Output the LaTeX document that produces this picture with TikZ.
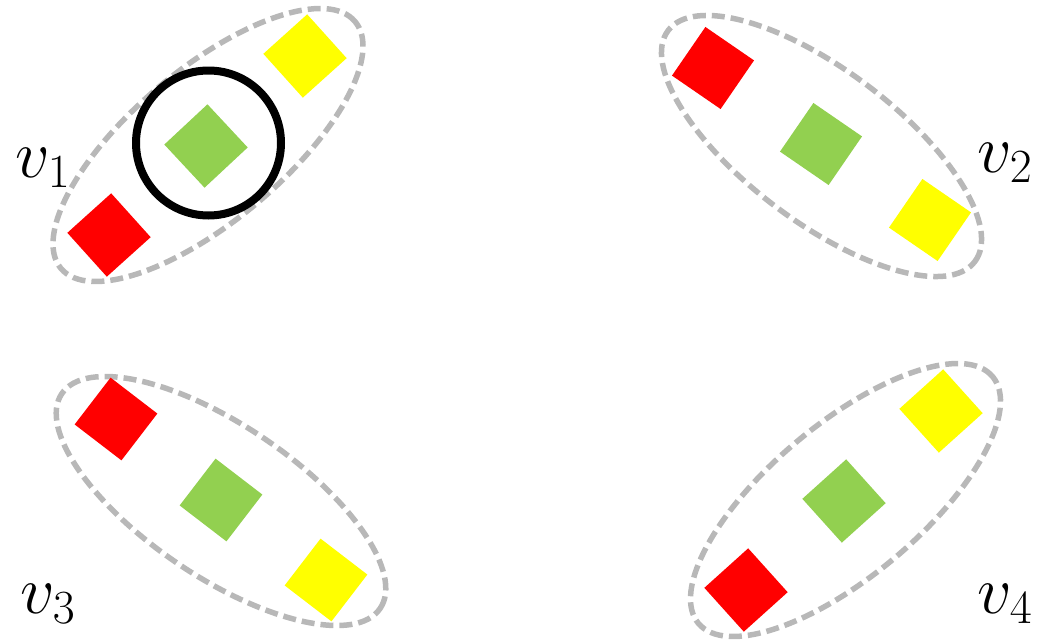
\RequirePackage{fix-cm}
\documentclass[tikz,border=0pt]{standalone}
\usetikzlibrary{shapes.geometric}
\definecolor{sqred}{HTML}{FF0000}
\definecolor{sqgreen}{HTML}{92D050}
\definecolor{sqyellow}{HTML}{FFFF00}
\definecolor{grpgray}{HTML}{B8B8B8}
\begin{document}
\begin{tikzpicture}[x=1pt,y=-1pt,
  sq/.style={rectangle,minimum size=59pt,inner sep=0pt,draw=none,fill=#1},
  grp/.style={ellipse,draw=grpgray,line width=5.5pt,dash pattern=on 13pt off 6pt,
              minimum width=384pt,minimum height=152pt,inner sep=0pt},
  ring/.style={circle,draw=black,line width=8pt,minimum size=145pt,inner sep=0pt},
  lbl/.style={inner sep=0pt,font=\fontsize{68}{80}\selectfont}]
\useasboundingbox (0,0) rectangle (1046,640);
% group ellipses
\node[grp,rotate=40]  (g1) at (208,145) {};
\node[grp,rotate=-37] (g2) at (821.5,146) {};
\node[grp,rotate=-34] (g3) at (221,501) {};
\node[grp,rotate=40]  (g4) at (845.5,500) {};
% v1 squares
\node[sq=sqred,rotate=42]    (r1) at (109,235) {};
\node[sq=sqgreen,rotate=43]  (c1) at (206,146) {};
\node[sq=sqyellow,rotate=42] (y1) at (305,56) {};
% v2 squares
\node[sq=sqred,rotate=-34.5]    (r2) at (713,68) {};
\node[sq=sqgreen,rotate=-34.5]  (c2) at (821,144) {};
\node[sq=sqyellow,rotate=-34.5] (y2) at (930,220) {};
% v3 squares
\node[sq=sqred,rotate=-37.5]    (r3) at (116,419) {};
\node[sq=sqgreen,rotate=-37.5]  (c3) at (221,500) {};
\node[sq=sqyellow,rotate=-37.5] (y3) at (326,580) {};
% v4 squares
\node[sq=sqred,rotate=42]    (r4) at (746,590) {};
\node[sq=sqgreen,rotate=42]  (c4) at (844,501) {};
\node[sq=sqyellow,rotate=42] (y4) at (941,411) {};
% highlight ring
\node[ring] (hl) at (208.5,143) {};
% labels
\node[lbl] (l1) at (43,168) {$v_1$};
\node[lbl] (l2) at (1005,163) {$v_2$};
\node[lbl] (l3) at (48,604) {$v_3$};
\node[lbl] (l4) at (1005,604) {$v_4$};
\end{tikzpicture}
\end{document}
